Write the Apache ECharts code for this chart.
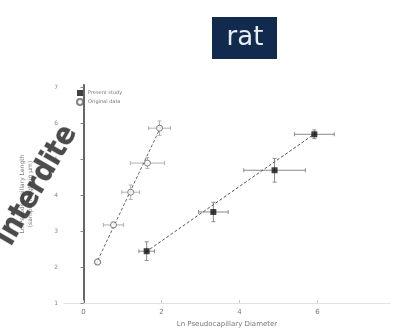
<!DOCTYPE html>
<html>
<head>
<meta charset="utf-8">
<script src="https://cdn.jsdelivr.net/npm/echarts@6/dist/echarts.min.js"></script>
<style>html,body{margin:0;padding:0;background:#fff}#c{width:394px;height:336px}</style>
</head>
<body>
<div id="c"></div>
<script>
// ---- data ----
const xTicks = [0, 2, 4, 6];
const yTicks = [1, 2, 3, 4, 5, 6, 7];
const seriesNames = ['Present study', 'Original data'];
const presentX = [1.62, 3.33, 4.90, 5.92];
const presentY = [2.44, 3.53, 4.69, 5.69];
const presentXErr = [0.20, 0.38, 0.79, 0.51];
const presentYErr = [0.26, 0.27, 0.33, 0.12];
const originalX = [0.36, 0.77, 1.21, 1.64, 1.95];
const originalY = [2.14, 3.17, 4.08, 4.89, 5.86];
const originalXErr = [0.08, 0.26, 0.23, 0.44, 0.28];
const originalYErr = [0.08, 0.08, 0.20, 0.15, 0.20];
const presentFitX = [1.60, 5.95];
const presentFitY = [2.42, 5.72];
const originalFitX = [0.31, 2.00];
const originalFitY = [2.06, 5.94];
const titleText = 'rat';
const xLabel = 'Ln Pseudocapillary Diameter';
const yLabel = 'Ln Pseudocapillary Length\n(sample length in µm)';
const watermark = 'interdite';

function pts(xs, ys) { return xs.map((x, i) => [x, ys[i]]); }
function errData(xs, ys, ex, ey) { return xs.map((x, i) => [x, ys[i], ex[i], ey[i]]); }

function errRender(color) {
  return function (params, api) {
    const x = api.value(0), y = api.value(1), ex = api.value(2), ey = api.value(3);
    const l = api.coord([x - ex, y]), r = api.coord([x + ex, y]);
    const t = api.coord([x, y + ey]), b = api.coord([x, y - ey]);
    const c = 2;
    const st = { stroke: color, lineWidth: 1 };
    return {
      type: 'group',
      children: [
        { type: 'line', shape: { x1: l[0], y1: l[1], x2: r[0], y2: r[1] }, style: st },
        { type: 'line', shape: { x1: l[0], y1: l[1] - c, x2: l[0], y2: l[1] + c }, style: st },
        { type: 'line', shape: { x1: r[0], y1: r[1] - c, x2: r[0], y2: r[1] + c }, style: st },
        { type: 'line', shape: { x1: t[0], y1: t[1], x2: b[0], y2: b[1] }, style: st },
        { type: 'line', shape: { x1: t[0] - c, y1: t[1], x2: t[0] + c, y2: t[1] }, style: st },
        { type: 'line', shape: { x1: b[0] - c, y1: b[1], x2: b[0] + c, y2: b[1] }, style: st }
      ]
    };
  };
}

const chart = echarts.init(document.getElementById('c'), null, { renderer: 'canvas' });
chart.setOption({
  animation: false,
  backgroundColor: '#fff',
  grid: { left: 64, top: 85, right: 4, bottom: 33 },
  legend: {
    left: 71, top: 85, orient: 'vertical', itemWidth: 6, itemHeight: 6, itemGap: 2,
    textStyle: { fontSize: 5, color: '#777', fontFamily: 'DejaVu Sans' },
    data: seriesNames
  },
  xAxis: {
    type: 'value', min: -0.5, max: 7.86,
    name: xLabel, nameLocation: 'middle', nameGap: 18,
    nameTextStyle: { fontSize: 7, color: '#777', fontFamily: 'DejaVu Sans' },
    axisLine: { show: true, lineStyle: { color: '#e2e2e2', width: 1 } },
    axisTick: { show: true, inside: true, length: 3, lineStyle: { color: '#ccc' }, customValues: xTicks },
    axisLabel: { fontSize: 7, color: '#777', margin: 6, customValues: xTicks, fontFamily: 'DejaVu Sans' },
    splitLine: { show: false }
  },
  yAxis: {
    type: 'value', min: 1, max: 7.06,
    name: yLabel, nameLocation: 'middle', nameGap: 30, nameRotate: 90,
    nameTextStyle: { fontSize: 6, color: '#777', fontFamily: 'DejaVu Sans', lineHeight: 8 },
    axisLine: { show: true, lineStyle: { color: '#666', width: 2 } },
    axisTick: { show: true, length: 3, lineStyle: { color: '#888' }, customValues: yTicks },
    axisLabel: { fontSize: 6, color: '#888', margin: 6, customValues: yTicks, fontFamily: 'DejaVu Sans' },
    splitLine: { show: false }
  },
  graphic: [
    { type: 'rect', shape: { x: 212, y: 17, width: 65, height: 42 }, style: { fill: '#112a4d' }, z: 10 },
    { type: 'text', x: 245, y: 38, style: { text: titleText, fill: '#e8eef4', fontSize: 26, fontFamily: 'DejaVu Sans', textAlign: 'center', textVerticalAlign: 'middle' }, z: 11 },
    { type: 'text', x: 70, y: 128, rotation: 1.05, style: { text: watermark, fill: 'rgba(45,45,45,0.85)', stroke: 'rgba(150,150,150,0.5)', lineWidth: 1, fontSize: 30, fontWeight: 'bold', fontFamily: 'DejaVu Sans Condensed', textAlign: 'right', textVerticalAlign: 'middle' }, z: 20 }
  ],
  series: [
    { name: seriesNames[0] + ' err', type: 'custom', renderItem: errRender('#8a8a8a'), data: errData(presentX, presentY, presentXErr, presentYErr), z: 2, silent: true },
    { name: seriesNames[1] + ' err', type: 'custom', renderItem: errRender('#b0b0b0'), data: errData(originalX, originalY, originalXErr, originalYErr), z: 2, silent: true },
    { type: 'line', data: pts(presentFitX, presentFitY), symbol: 'none', lineStyle: { color: '#555', width: 1, type: [3, 2] }, z: 3 },
    { type: 'line', data: pts(originalFitX, originalFitY), symbol: 'none', lineStyle: { color: '#666', width: 1, type: [3, 2] }, z: 3 },
    { name: seriesNames[0], type: 'scatter', data: pts(presentX, presentY), symbol: 'rect', symbolSize: 6, itemStyle: { color: '#111' }, z: 5 },
    { name: seriesNames[1], type: 'scatter', data: pts(originalX, originalY), symbol: 'circle', symbolSize: 6, itemStyle: { color: '#fff', borderColor: '#666', borderWidth: 1 }, z: 5 }
  ]
});
</script>
</body>
</html>
